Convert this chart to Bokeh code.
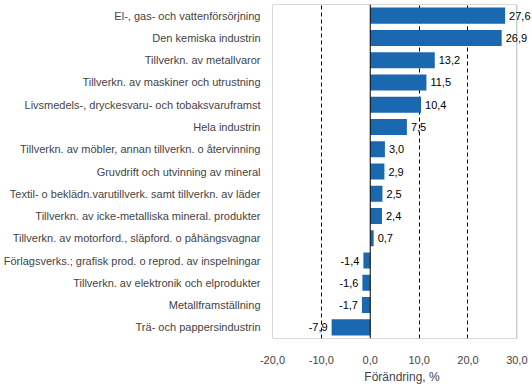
from bokeh.plotting import figure
from bokeh.models import ColumnDataSource, FixedTicker, CustomJSTickFormatter, Span, LabelSet, BoxAnnotation
from bokeh.core.properties import value
from bokeh.embed import file_html
from bokeh.resources import INLINE

categories = [
    "El-, gas- och vattenförsörjning",
    "Den kemiska industrin",
    "Tillverkn. av metallvaror",
    "Tillverkn. av maskiner och utrustning",
    "Livsmedels-, dryckesvaru- och tobaksvaruframst",
    "Hela industrin",
    "Tillverkn. av möbler, annan tillverkn. o återvinning",
    "Gruvdrift och utvinning av mineral",
    "Textil- o beklädn.varutillverk. samt tillverkn. av läder",
    "Tillverkn. av icke-metalliska mineral. produkter",
    "Tillverkn. av motorford., släpford. o påhängsvagnar",
    "Förlagsverks.; grafisk prod. o reprod. av inspelningar",
    "Tillverkn. av elektronik och elprodukter",
    "Metallframställning",
    "Trä- och pappersindustrin",
]
values = [27.6, 26.9, 13.2, 11.5, 10.4, 7.5, 3.0, 2.9, 2.5, 2.4, 0.7, -1.4, -1.6, -1.7, -7.9]
x_ticks = [-20, -10, 0, 10, 20, 30]
grid_ticks = [-10, 10, 20]
x_min, x_max = -20, 30
x_title = "Förändring, %"

BAR = "#1a68b0"
FONT = "Liberation Sans"

labels = [f"{v:.1f}".replace(".", ",") for v in values]
pos = [i for i, v in enumerate(values) if v >= 0]
neg = [i for i, v in enumerate(values) if v < 0]
src = ColumnDataSource(dict(cat=categories, val=values))
src_pos = ColumnDataSource(dict(cat=[categories[i] for i in pos], val=[values[i] for i in pos],
                                lab=[labels[i] for i in pos]))
src_neg = ColumnDataSource(dict(cat=[categories[i] for i in neg], val=[values[i] for i in neg],
                                lab=[labels[i] for i in neg]))

# extra room on the right so the value labels can run past the frame line at 30
pad_right = 3.0
px_per_unit = 244 / (x_max - x_min)
p = figure(
    y_range=list(reversed(categories)), x_range=(x_min, x_max + pad_right),
    frame_width=round(px_per_unit * (x_max + pad_right - x_min)), frame_height=334,
    output_backend="svg", toolbar_location=None,
    min_border_left=268, min_border_right=2, min_border_top=4, min_border_bottom=10,
)
p.hbar(y="cat", left=0, right="val", height=0.72, source=src, color=BAR, line_color=None)

p.add_layout(Span(location=0, dimension="height", line_color="black", line_width=1))
p.add_layout(BoxAnnotation(left=x_min, right=x_max, fill_color=None, fill_alpha=0,
                           line_color="black", line_width=1, level="underlay"))

for s, al, off in ((src_pos, "left", 4), (src_neg, "right", -4)):
    p.add_layout(LabelSet(x="val", y="cat", text="lab", source=s, text_align=al, x_offset=off,
                          text_baseline="middle", text_font=value(FONT), text_font_size="11px",
                          text_color="black", level="overlay"))

p.outline_line_color = None
p.background_fill_color = "white"
p.border_fill_color = "white"

p.ygrid.grid_line_color = None
p.xgrid.ticker = FixedTicker(ticks=grid_ticks)
p.xgrid.grid_line_color = "black"
p.xgrid.grid_line_dash = "4 3"
p.xgrid.grid_line_width = 1

xa = p.xaxis[0]
xa.ticker = FixedTicker(ticks=x_ticks)
xa.formatter = CustomJSTickFormatter(code="return tick.toFixed(1).replace('.', ',');")
xa.axis_line_color = None
xa.major_tick_line_color = None
xa.minor_tick_line_color = None
xa.major_label_text_font = FONT
xa.major_label_text_font_size = "11px"
xa.major_label_standoff = 11
xa.axis_label = x_title
xa.axis_label_text_font = FONT
xa.axis_label_text_font_size = "12px"
xa.axis_label_text_font_style = "normal"
xa.axis_label_standoff = 3

ya = p.yaxis[0]
ya.axis_line_color = None
ya.major_tick_line_color = None
ya.minor_tick_line_color = None
ya.major_label_text_font = FONT
ya.major_label_text_font_size = "11px"
ya.major_label_standoff = 6

open("out.html", "w").write(file_html(p, INLINE))
